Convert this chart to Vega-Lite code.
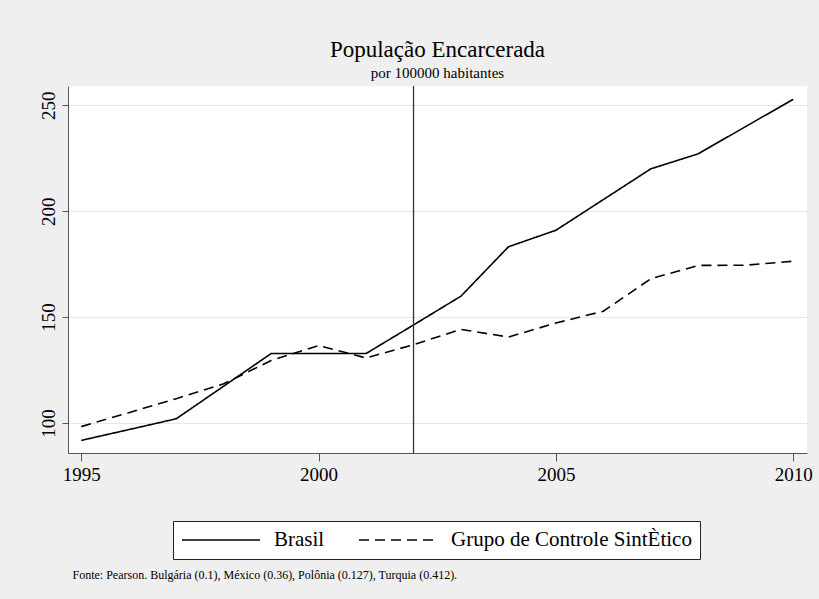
{
  "$schema": "https://vega.github.io/schema/vega-lite/v6.json",
  "width": 739,
  "height": 367,
  "autosize": {"type": "none"},
  "padding": {"left": 68, "top": 86, "right": 12, "bottom": 146},
  "background": "#efefef",
  "title": {
    "text": "População Encarcerada",
    "subtitle": "por 100000 habitantes",
    "font": "Liberation Serif",
    "fontSize": 23,
    "fontWeight": "normal",
    "color": "black",
    "subtitleFont": "Liberation Serif",
    "subtitleFontSize": 15,
    "subtitleColor": "black",
    "subtitlePadding": 4,
    "anchor": "middle",
    "frame": "group",
    "offset": 4
  },
  "config": {
    "font": "Liberation Serif",
    "view": {"fill": "white", "stroke": null},
    "axis": {
      "domainColor": "#555555",
      "tickColor": "#555555",
      "labelFont": "Liberation Serif",
      "titleFont": "Liberation Serif",
      "labelColor": "black",
      "gridColor": "#e6e6e6",
      "gridWidth": 1.2
    },
    "legend": {
      "labelFont": "Liberation Serif",
      "titleFont": "Liberation Serif"
    }
  },
  "datasets": {
    "series": [
      {"ano": 1995, "serie": "Brasil", "valor": 91.8},
      {"ano": 1996, "serie": "Brasil", "valor": 96.9},
      {"ano": 1997, "serie": "Brasil", "valor": 102.0},
      {"ano": 1998, "serie": "Brasil", "valor": 117.4},
      {"ano": 1999, "serie": "Brasil", "valor": 132.8},
      {"ano": 2000, "serie": "Brasil", "valor": 132.8},
      {"ano": 2001, "serie": "Brasil", "valor": 132.8},
      {"ano": 2002, "serie": "Brasil", "valor": 146.3},
      {"ano": 2003, "serie": "Brasil", "valor": 159.9},
      {"ano": 2004, "serie": "Brasil", "valor": 183.2},
      {"ano": 2005, "serie": "Brasil", "valor": 191.0},
      {"ano": 2006, "serie": "Brasil", "valor": 205.5},
      {"ano": 2007, "serie": "Brasil", "valor": 220.0},
      {"ano": 2008, "serie": "Brasil", "valor": 227.1},
      {"ano": 2009, "serie": "Brasil", "valor": 240.0},
      {"ano": 2010, "serie": "Brasil", "valor": 252.8},
      {"ano": 1995, "serie": "Grupo de Controle SintÈtico", "valor": 98.3},
      {"ano": 1996, "serie": "Grupo de Controle SintÈtico", "valor": 104.9},
      {"ano": 1997, "serie": "Grupo de Controle SintÈtico", "valor": 111.5},
      {"ano": 1998, "serie": "Grupo de Controle SintÈtico", "valor": 118.5},
      {"ano": 1999, "serie": "Grupo de Controle SintÈtico", "valor": 129.5},
      {"ano": 2000, "serie": "Grupo de Controle SintÈtico", "valor": 136.6},
      {"ano": 2001, "serie": "Grupo de Controle SintÈtico", "valor": 130.7},
      {"ano": 2002, "serie": "Grupo de Controle SintÈtico", "valor": 137.0},
      {"ano": 2003, "serie": "Grupo de Controle SintÈtico", "valor": 144.2},
      {"ano": 2004, "serie": "Grupo de Controle SintÈtico", "valor": 140.6},
      {"ano": 2005, "serie": "Grupo de Controle SintÈtico", "valor": 147.2},
      {"ano": 2006, "serie": "Grupo de Controle SintÈtico", "valor": 152.8},
      {"ano": 2007, "serie": "Grupo de Controle SintÈtico", "valor": 168.1},
      {"ano": 2008, "serie": "Grupo de Controle SintÈtico", "valor": 174.4},
      {"ano": 2009, "serie": "Grupo de Controle SintÈtico", "valor": 174.5},
      {"ano": 2010, "serie": "Grupo de Controle SintÈtico", "valor": 176.4}
    ],
    "intervencao": [{"ano": 2002}]
  },
  "layer": [
    {
      "data": {"name": "series"},
      "mark": {"type": "line", "color": "black", "strokeWidth": 1.6},
      "encoding": {
        "x": {
          "field": "ano",
          "type": "quantitative",
          "scale": {"domain": [1994.72, 2010.29], "nice": false, "zero": false},
          "axis": {
            "values": [1995, 2000, 2005, 2010],
            "format": "d",
            "grid": false,
            "tickSize": 8,
            "labelFont": "Liberation Serif",
            "labelFontSize": 19,
            "labelPadding": 4,
            "labelFlush": false,
            "title": "Fonte: Pearson. Bulgária (0.1), México (0.36), Polônia (0.127),  Turquia (0.412).",
            "titleFont": "Liberation Serif",
            "titleFontSize": 12,
            "titleFontWeight": "normal",
            "titleColor": "black",
            "titleAnchor": "start",
            "titleAlign": "left",
            "titleBaseline": "alphabetic",
            "titleX": 4,
            "titleY": 125
          }
        },
        "y": {
          "field": "valor",
          "type": "quantitative",
          "scale": {"domain": [85.85, 259.1], "nice": false, "zero": false},
          "axis": {
            "values": [100, 150, 200, 250],
            "grid": true,
            "tickSize": 6,
            "labelFont": "Liberation Serif",
            "labelFontSize": 19,
            "labelAngle": 270,
            "labelAlign": "center",
            "labelBaseline": "alphabetic",
            "labelPadding": 8,
            "title": null
          }
        },
        "strokeDash": {
          "field": "serie",
          "type": "nominal",
          "scale": {
            "domain": ["Brasil", "Grupo de Controle SintÈtico"],
            "range": [[1, 0], [10, 6]]
          },
          "legend": {
            "title": null,
            "orient": "none",
            "legendX": 105,
            "legendY": 435,
            "direction": "horizontal",
            "fillColor": "white",
            "strokeColor": "#222222",
            "padding": 8,
            "symbolType": "stroke",
            "symbolSize": 6084,
            "symbolStrokeWidth": 1.5,
            "symbolStrokeColor": "black",
            "labelFont": "Liberation Serif",
            "labelFontSize": 21,
            "labelColor": "black",
            "labelOffset": 13,
            "columnPadding": 33,
            "clipHeight": 22,
            "labelLimit": 400
          }
        }
      }
    },
    {
      "data": {"name": "intervencao"},
      "mark": {"type": "rule", "color": "#333333", "strokeWidth": 1.3},
      "encoding": {
        "x": {"field": "ano", "type": "quantitative"}
      }
    }
  ]
}
